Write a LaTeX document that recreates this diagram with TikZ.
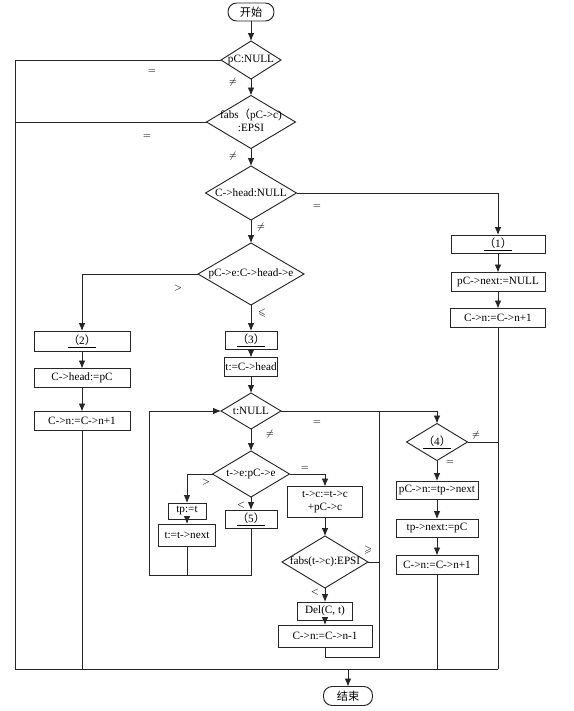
\documentclass[tikz,border=0pt]{standalone}
\usepackage{amssymb}
\usepackage{fontspec}
\setmainfont{Liberation Serif}
\newfontfamily\cjk{Noto Sans CJK SC}
\usetikzlibrary{shapes.geometric,arrows.meta}
\newcommand\blk[1]{\underline{\hbox{\cjk （}#1\hbox{\cjk ）}}}
\newcommand\zw[1]{\makebox[0pt]{#1}}
\newcommand\txtfont{\fontsize{8.4}{9.6}\selectfont}
\tikzset{
  ln/.style={draw=black!85, line width=0.7pt},
  arr/.style={ln, -{Latex[length=6pt,width=5pt]}},
  box/.style 2 args={draw=black!85, line width=0.7pt, rectangle, inner sep=1pt, outer sep=0pt,
    minimum width=#1*0.75pt, minimum height=#2*0.75pt, font=\txtfont},
  dia/.style 2 args={draw=black!85, line width=0.7pt, diamond, inner sep=0pt, outer sep=0pt,
    minimum width=#1*0.75pt, minimum height=#2*0.75pt, font=\txtfont},
  term/.style 2 args={draw=black!85, line width=0.7pt, rectangle, rounded corners=6.5pt, inner sep=0pt, outer sep=0pt,
    minimum width=#1*0.75pt, minimum height=#2*0.75pt, font=\txtfont},
  lab/.style={font=\fontsize{7}{8}\selectfont, inner sep=0pt}
}
\begin{document}
\begin{tikzpicture}[x=0.75pt,y=-0.75pt]
\useasboundingbox (0,0) rectangle (574,711);
% nodes
\node[term={46}{18}] (start) at (251,12) {\cjk 开始};
\node[dia={60}{38}] (d1) at (251,60) {\zw{pC:NULL}};
\node[dia={89}{53}] (d2) at (251,122) {\zw{\begin{tabular}{@{}c@{}}fabs{\cjk （}pC->c)\\:EPSI\end{tabular}}};
\node[dia={91}{54}] (d3) at (251,193) {\zw{C->head:NULL}};
\node[dia={106}{62}] (d4) at (251,274) {\zw{pC->e:C->head->e}};
\node[box={94}{18}] (b1) at (498,244) {\blk{1}};
\node[box={94}{19}] (b1b) at (498,282) {pC->next:=NULL};
\node[box={95}{19}] (b1c) at (498,318) {C->n:=C->n+1};
\node[box={96}{20}] (b2) at (82,341) {\blk{2}};
\node[box={96}{19}] (b2b) at (82,378) {C->head:=pC};
\node[box={96}{19}] (b2c) at (82,421) {C->n:=C->n+1};
\node[box={52}{18}] (b3) at (251,340) {\blk{3}};
\node[box={52}{19}] (b3b) at (251,367) {t:=C->head};
\node[dia={60}{36}] (d5) at (251,411) {\zw{t:NULL}};
\node[dia={77}{46}] (d6) at (251,474) {\zw{t->e:pC->e}};
\node[box={38}{16}] (bt) at (187,511) {tp:=t};
\node[box={57}{22}] (bt2) at (187,535) {t:=t->next};
\node[box={52}{18}] (b5) at (251,519) {\blk{5}};
\node[box={75}{31}, align=center] (bs) at (325,502) {t->c:=t->c\\+pC->c};
\node[dia={86}{52}] (d7) at (325,562) {\zw{fabs(t->c):EPSI}};
\node[box={55}{18}] (del) at (325,611) {Del(C, t)};
\node[box={94}{22}] (cn1) at (325,636) {C->n:=C->n-1};
\node[dia={61}{37}] (d8) at (437,442) {\zw{\blk{4}}};
\node[box={82}{18}] (b4a) at (437,490) {pC->n:=tp->next};
\node[box={82}{18}] (b4b) at (437,528) {tp->next:=pC};
\node[box={82}{19}] (b4c) at (437,565) {C->n:=C->n+1};
\node[term={49}{19}] (end) at (348,696) {\cjk 结束};
% coordinates
\coordinate (L) at (15,669);
\coordinate (R) at (498,669);
\coordinate (lp) at (149,575);
\coordinate (rj) at (379,657);
% vertical arrows
\draw[arr] (start) -- (d1);
\draw[arr] (d1) -- (d2);
\draw[arr] (d2) -- (d3);
\draw[arr] (d3) -- (d4);
\draw[arr] (d4) -- (b3);
\draw[arr] (b3) -- (b3b);
\draw[arr] (b3b) -- (d5);
\draw[arr] (d5) -- (d6);
\draw[arr] (d6) -- (b5);
\draw[arr] (bt) -- (bt2);
\draw[arr] (bs) -- (d7);
\draw[arr] (d7) -- (del);
\draw[arr] (del) -- (cn1);
\draw[arr] (d8) -- (b4a);
\draw[arr] (b4a) -- (b4b);
\draw[arr] (b4b) -- (b4c);
\draw[arr] (b1) -- (b1b);
\draw[arr] (b1b) -- (b1c);
\draw[arr] (b2) -- (b2b);
\draw[arr] (b2b) -- (b2c);
% branches
\draw[ln] (d1.west) -| (L);
\draw[ln] (d2.west) -- (d2.west -| L);
\draw[ln] (L) -- (R);
\draw[arr] (end.north |- L) -- (end.north);
\draw[ln] (b1c.south) -- (R);
\draw[ln] (b2c.south) -- (b2c.south |- L);
\draw[ln] (b4c.south) -- (b4c.south |- L);
\draw[arr] (d3.east) -| (b1.north);
\draw[arr] (d4.west) -| (b2.north);
\draw[arr] (d5.east) -| (d8.north);
\draw[ln] (d8.east) -- (d8.east -| R);
\draw[arr] (d6.west) -| (bt.north);
\draw[arr] (d6.east) -| (bs.north);
\draw[arr] (b5.south) |- (lp) |- (d5.west);
\draw[ln] (bt2.south) -- (bt2.south |- lp);
\draw[ln] (cn1.south) |- (rj) -- (rj |- d5.east);
\draw[ln] (d7.east) -- (d7.east -| rj);
% labels
\node[lab] (l1) at (152,72) {$=$};
\node[lab] (l2) at (233,82) {$\neq$};
\node[lab] (l3) at (147,137) {$=$};
\node[lab] (l4) at (233,156) {$\neq$};
\node[lab] (l5) at (317,207) {$=$};
\node[lab] (l6) at (261,227) {$\neq$};
\node[lab] (l7) at (178,288) {$>$};
\node[lab] (l8) at (262,313) {$\leqslant$};
\node[lab] (l9) at (270,434) {$\neq$};
\node[lab] (l10) at (317,423) {$=$};
\node[lab] (l11) at (206,482) {$>$};
\node[lab] (l12) at (241,505) {$<$};
\node[lab] (l13) at (305,469) {$=$};
\node[lab] (l14) at (368,550) {$\geqslant$};
\node[lab] (l15) at (315,592) {$<$};
\node[lab] (l16) at (476,435) {$\neq$};
\node[lab] (l17) at (450,463) {$=$};
\end{tikzpicture}
\end{document}
